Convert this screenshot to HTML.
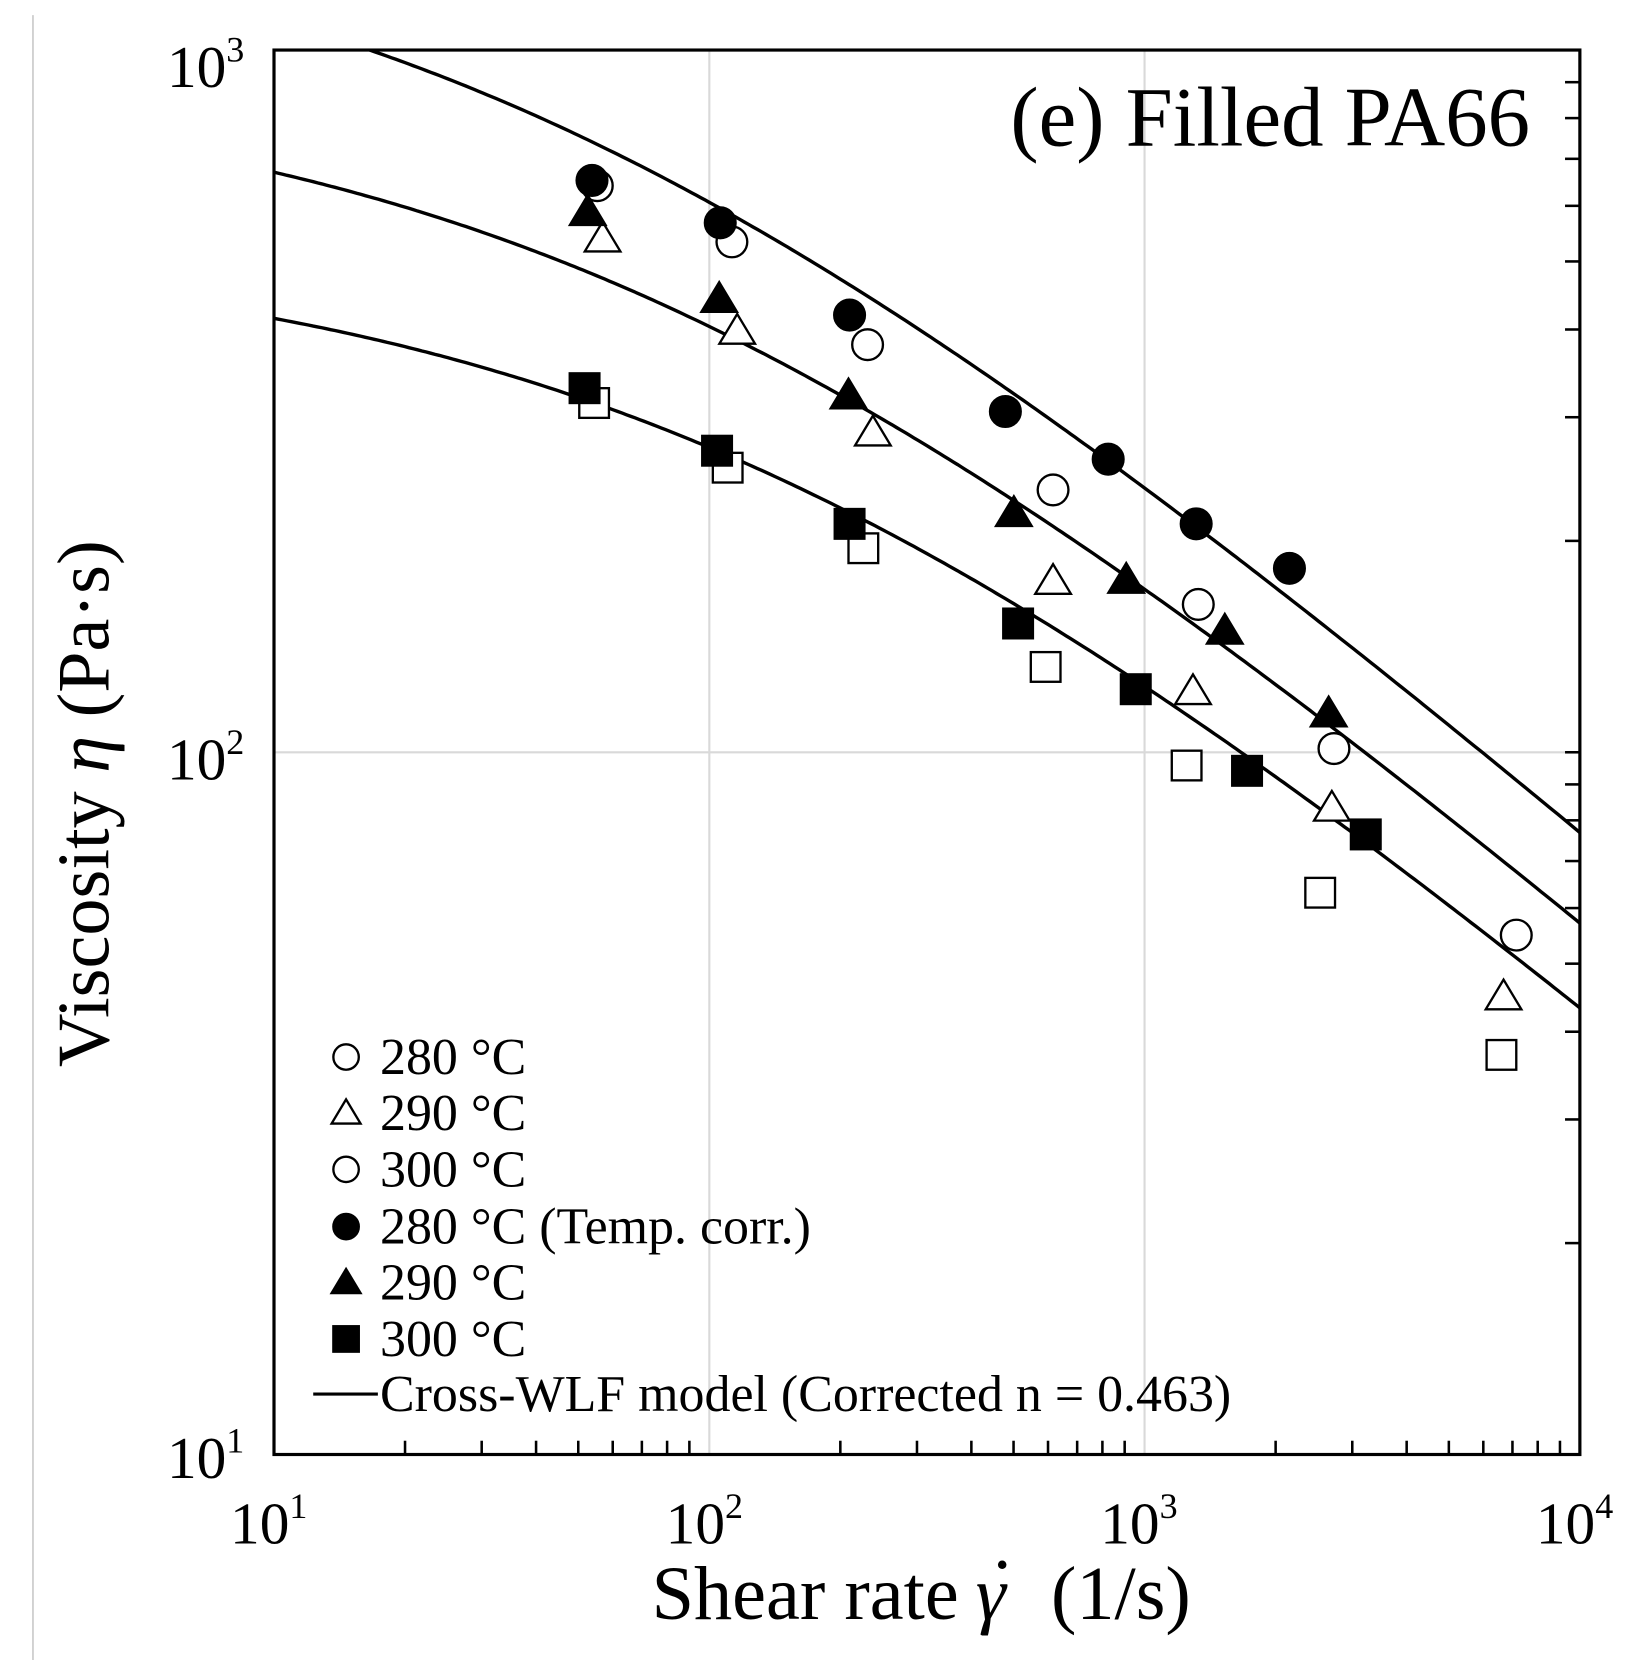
<!DOCTYPE html>
<html><head><meta charset="utf-8"><style>
html,body{margin:0;padding:0;background:#fff;width:1644px;height:1660px;overflow:hidden}
svg{display:block}
text{font-family:"Liberation Serif",serif;fill:#000}
</style></head><body>
<svg id="s" width="1644" height="1660" viewBox="1.5 -0.17 1551 1566" xmlns="http://www.w3.org/2000/svg">
<line x1="32.6" y1="14" x2="32.6" y2="1566" stroke="#c8c8c8" stroke-width="1.5"/>
<g stroke="#d9d9d9" stroke-width="2">
<line x1="670.7" y1="47" x2="670.7" y2="1372"/>
<line x1="1081.3" y1="47" x2="1081.3" y2="1372"/>
<line x1="260" y1="709.5" x2="1492" y2="709.5"/>
</g>
<g id="ticks" stroke="#000" stroke-width="2.4"></g>
<g id="curves" fill="none" stroke="#000" stroke-width="3.2"></g>
<g id="marks" stroke="#000" stroke-width="2.2"></g>
<rect x="260" y="47" width="1232" height="1325" fill="none" stroke="#000" stroke-width="3"/>
<text x="1445" y="137" font-size="80" text-anchor="end">(e) Filled PA66</text>
<g font-size="56" text-anchor="end">
<text x="232" y="82">10<tspan font-size="34" dy="-24">3</tspan></text>
<text x="232" y="735">10<tspan font-size="34" dy="-24">2</tspan></text>
<text x="232" y="1394">10<tspan font-size="34" dy="-24">1</tspan></text>
</g>
<g font-size="56" text-anchor="middle">
<text x="255" y="1456">10<tspan font-size="34" dy="-24">1</tspan></text>
<text x="666" y="1456">10<tspan font-size="34" dy="-24">2</tspan></text>
<text x="1076" y="1456">10<tspan font-size="34" dy="-24">3</tspan></text>
<text x="1487" y="1456">10<tspan font-size="34" dy="-24">4</tspan></text>
</g>
<text x="906" y="1527" font-size="72" text-anchor="end">Shear rate</text>
<text x="922" y="1527" font-size="72" font-style="italic">γ</text>
<circle cx="947" cy="1476" r="4" fill="#000"/>
<text x="993" y="1527" font-size="72">(1/s)</text>
<text transform="translate(104,758) rotate(-90)" font-size="70" text-anchor="middle">Viscosity <tspan font-style="italic">η</tspan> (Pa·s)</text>
<g font-size="49">
<text x="360" y="1013">280 °C</text>
<text x="360" y="1066">290 °C</text>
<text x="360" y="1119">300 °C</text>
<text x="360" y="1173">280 °C (Temp. corr.)</text>
<text x="360" y="1226">290 °C</text>
<text x="360" y="1279">300 °C</text>
<text x="360" y="1331">Cross-WLF model (Corrected n = 0.463)</text>
</g>
<line x1="297" y1="1315" x2="358" y2="1315" stroke="#000" stroke-width="3"/>
</svg>
<script>
var NS="http://www.w3.org/2000/svg";
function px(g){return 260+410.67*Math.log10(g/10);}
function py(e){return 47+662.5*(3-Math.log10(e));}
function el(p,tag,a){var e=document.createElementNS(NS,tag);for(var k in a)e.setAttribute(k,a[k]);p.appendChild(e);return e;}
var T=document.getElementById('ticks');
for(var d=0;d<3;d++)for(var k=2;k<10;k++){
 var x=px(Math.pow(10,d+1)*k);el(T,'line',{x1:x,y1:1372,x2:x,y2:1359});
}
for(var d=1;d<3;d++)for(var k=1;k<10;k++){
 if(k==1&&d==1)continue;
 var y=py(Math.pow(10,d)*k);el(T,'line',{x1:1492,y1:y,x2:1478,y2:y});
}
var C=document.getElementById('curves');
var pars=[[1663,35.65],[917,64.1],[529,110.6]];
pars.forEach(function(p){
 var s="";
 for(var i=0;i<=300;i++){
  var g=10*Math.pow(10,3*i/300);var e=p[0]/(1+Math.pow(g/p[1],0.537));
  if(e>1000)continue;
  s+=(s?"L":"M")+px(g).toFixed(1)+","+py(e).toFixed(1);
 }
 el(C,'path',{d:s});
});
var M=document.getElementById('marks');
function circ(x,y,r,f){el(M,'circle',{cx:x,cy:y,r:r,fill:f?'#000':'#fff'});}
function tri(x,y,r,f){el(M,'polygon',{points:(x)+","+(y-r)+" "+(x-r*1.05)+","+(y+r*0.75)+" "+(x+r*1.05)+","+(y+r*0.75),fill:f?'#000':'#fff'});}
function sq(x,y,r,f){el(M,'rect',{x:x-r,y:y-r,width:2*r,height:2*r,fill:f?'#000':'#fff'});}
var oc=[[565,175],[692,228],[820,325],[995,462],[1132,570],[1260,706],[1432,882]];
var fc=[[560,170],[681,210],[803,297],[950,388],[1047,433],[1130,494],[1218,536]];
var ot=[[570,225],[697,312],[825,408],[995,548],[1127,652],[1258,762],[1420,940]];
var ft=[[556,200],[680,282],[802,373],[958,484],[1064,547],[1157,595],[1255,673]];
var os=[[562,380],[688,441],[816,517],[988,629],[1121,722],[1247,842],[1418,995]];
var fs=[[553,366],[678,425],[803,494],[962,588],[1073,650],[1178,727],[1290,787]];
os.forEach(function(p){sq(p[0],p[1],14,0);});
ot.forEach(function(p){tri(p[0],p[1],16,0);});
oc.forEach(function(p){circ(p[0],p[1],14.5,0);});
fs.forEach(function(p){sq(p[0],p[1],14,1);});
ft.forEach(function(p){tri(p[0],p[1],16,1);});
fc.forEach(function(p){circ(p[0],p[1],14.5,1);});
circ(328,997,12,0);tri(328,1050,13,0);circ(328,1103,12,0);
circ(328,1157,12,1);tri(328,1210,13,1);sq(328,1263,12,1);
</script>
</body></html>
